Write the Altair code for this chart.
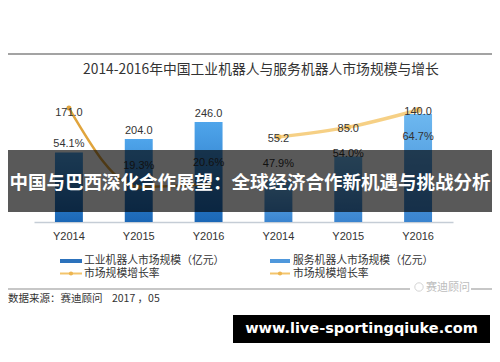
import altair as alt
import pandas as pd

# ---------------- data ----------------
years = ["Y2014", "Y2015", "Y2016"]
industrial_size = [171.0, 204.0, 246.0]
industrial_growth = [54.1, 19.3, 20.6]
service_size = [55.2, 85.0, 140.0]
service_growth = [47.9, 54.0, 64.7]

title_text = "2014-2016年中国工业机器人与服务机器人市场规模与增长"
legend_bar_labels = ["工业机器人市场规模（亿元）", "服务机器人市场规模（亿元）"]
legend_line_label = "市场规模增长率"
source_text = "数据来源：赛迪顾问\u00a0\u00a0\u00a0\u00a02017\u00a0，05"
banner_text = "中国与巴西深化合作展望：全球经济合作新机遇与挑战分析"
site_text = "www.live-sportingqiuke.com"
logo_text = "赛迪顾问"

rows = []
for panel, sizes, growth in [("工业", industrial_size, industrial_growth),
                             ("服务", service_size, service_growth)]:
    for yr, s, g in zip(years, sizes, growth):
        rows.append({"panel": panel, "year": yr, "slot": panel + yr, "size": s, "growth": g})
df = pd.DataFrame(rows)
slots = list(df["slot"])

CJK = "Noto Sans CJK SC"
NUM = "Liberation Sans"
TXT = "#333333"

# ---------------- scales ----------------
xscale = alt.Scale(domain=slots, paddingInner=0.6, paddingOuter=0.3)
xaxis = alt.Axis(title=None, labelExpr="slice(datum.label, -5)", ticks=False, tickSize=0,
                 labelPadding=8, labelFontSize=11, labelColor=TXT, labelFont=NUM,
                 domainColor="#C5CDD6", domainWidth=1.5, labelAngle=0, grid=False)


def X():
    return alt.X("slot:N", scale=xscale, axis=xaxis)


ind_bar = alt.Scale(domain=[0, 413], nice=False, zero=False)
srv_bar = alt.Scale(domain=[0, 218], nice=False, zero=False)
ind_line = alt.Scale(domain=[3.9, 77.9], nice=False, zero=False)
srv_line = alt.Scale(domain=[-5, 99.5], nice=False, zero=False)

grad_ind = alt.LinearGradient(gradient="linear", x1=0, x2=0, y1=0, y2=1,
                              stops=[alt.GradientStop(color="#4FA5EB", offset=0),
                                     alt.GradientStop(color="#1B67B6", offset=1)])
grad_srv = alt.LinearGradient(gradient="linear", x1=0, x2=0, y1=0, y2=1,
                              stops=[alt.GradientStop(color="#6DB8F0", offset=0),
                                     alt.GradientStop(color="#3A84CF", offset=1)])

base = alt.Chart(df).transform_calculate(
    num="format(datum.size, '.1f')",
    pct="format(datum.growth, '.1f') + '%'",
)
ind = base.transform_filter("datum.panel == '工业'")
srv = base.transform_filter("datum.panel == '服务'")

bars_ind = ind.mark_bar(color=grad_ind).encode(
    x=X(), y=alt.Y("size:Q", scale=ind_bar, axis=None))
bars_srv = srv.mark_bar(color=grad_srv).encode(
    x=X(), y=alt.Y("size:Q", scale=srv_bar, axis=None))

line_ind = ind.mark_line(interpolate="monotone", color="#E0A43C", strokeWidth=2.5,
                         point=alt.OverlayMarkDef(color="#E0A43C", size=25, filled=True)).encode(
    x=X(), y=alt.Y("growth:Q", scale=ind_line, axis=None))
line_srv = srv.mark_line(interpolate="monotone", color="#F6CD7E", strokeWidth=3.5, opacity=0.95,
                         point=alt.OverlayMarkDef(color="#F2C064", size=35, filled=True)).encode(
    x=X(), y=alt.Y("growth:Q", scale=srv_line, axis=None))

tstyle = dict(font=NUM, fontSize=11, color=TXT, baseline="middle", align="center")

lab_ind_num_line = ind.transform_filter("datum.year == 'Y2014'").mark_text(dy=5, **tstyle).encode(
    x=X(), y=alt.Y("growth:Q", scale=ind_line, axis=None), text="num:N")
lab_ind_num_bar = ind.transform_filter("datum.year != 'Y2014'").mark_text(dy=-8, **tstyle).encode(
    x=X(), y=alt.Y("size:Q", scale=ind_bar, axis=None), text="num:N")
lab_ind_pct_bar = ind.transform_filter("datum.year == 'Y2014'").mark_text(dy=-8, **tstyle).encode(
    x=X(), y=alt.Y("size:Q", scale=ind_bar, axis=None), text="pct:N")
lab_ind_pct_line = ind.transform_filter("datum.year != 'Y2014'").mark_text(dy=-21, **tstyle).encode(
    x=X(), y=alt.Y("growth:Q", scale=ind_line, axis=None), text="pct:N")
lab_srv_num = srv.mark_text(dy=2, **tstyle).encode(
    x=X(), y=alt.Y("growth:Q", scale=srv_line, axis=None), text="num:N")
lab_srv_pct = srv.mark_text(dy=27, **tstyle).encode(
    x=X(), y=alt.Y("growth:Q", scale=srv_line, axis=None), text="pct:N")

# ---------------- decorations ----------------
deco = alt.Chart(pd.DataFrame({"k": [0]}))

top_rule = deco.mark_rule(color="#A3A3A3", strokeWidth=2).encode(
    x=alt.value(-26), x2=alt.value(458), y=alt.value(0))
title = deco.mark_text(text=title_text, font=CJK, fontSize=13.8, color=TXT,
                       align="center", baseline="middle").encode(x=alt.value(227), y=alt.value(16))

banner = deco.mark_rect(color="black", opacity=0.65).encode(
    x=alt.value(-26), x2=alt.value(458), y=alt.value(96), y2=alt.value(158))
banner_t = deco.mark_text(text=banner_text, font=CJK, fontSize=18.5, fontWeight="bold",
                          color="white", align="center", baseline="middle").encode(
    x=alt.value(216), y=alt.value(129))

leg_sw1 = deco.mark_rect(color="#2C72BC").encode(
    x=alt.value(26), x2=alt.value(48), y=alt.value(205), y2=alt.value(209))
leg_sw2 = deco.mark_rect(color="#4F98DC").encode(
    x=alt.value(236), x2=alt.value(256), y=alt.value(205), y2=alt.value(209))
leg_t1 = deco.mark_text(text=legend_bar_labels[0], font=CJK, fontSize=10.8, color=TXT,
                        align="left", baseline="middle").encode(x=alt.value(50), y=alt.value(207))
leg_t2 = deco.mark_text(text=legend_bar_labels[1], font=CJK, fontSize=10.8, color=TXT,
                        align="left", baseline="middle").encode(x=alt.value(259), y=alt.value(207))
leg_l1 = deco.mark_rule(color="#F3C46C", strokeWidth=2).encode(
    x=alt.value(26), x2=alt.value(48), y=alt.value(219.5))
leg_l2 = deco.mark_rule(color="#F3C46C", strokeWidth=2).encode(
    x=alt.value(236), x2=alt.value(256), y=alt.value(219.5))
leg_d1 = deco.mark_point(shape="circle", filled=True, size=18, color="#EDB550", opacity=1).encode(
    x=alt.value(37), y=alt.value(219.5))
leg_d2 = deco.mark_point(shape="circle", filled=True, size=18, color="#EDB550", opacity=1).encode(
    x=alt.value(246), y=alt.value(219.5))
leg_t3 = deco.mark_text(text=legend_line_label, font=CJK, fontSize=10.8, color=TXT,
                        align="left", baseline="middle").encode(x=alt.value(50), y=alt.value(220))
leg_t4 = deco.mark_text(text=legend_line_label, font=CJK, fontSize=10.8, color=TXT,
                        align="left", baseline="middle").encode(x=alt.value(259), y=alt.value(220))

bot_rule1 = deco.mark_rule(color="#B5B5B5", strokeWidth=1.5).encode(
    x=alt.value(-26), x2=alt.value(376), y=alt.value(235))
bot_rule2 = deco.mark_rule(color="#B5B5B5", strokeWidth=1.5).encode(
    x=alt.value(437), x2=alt.value(458), y=alt.value(235))
logo_icon = deco.mark_point(shape="circle", filled=False, size=70, color="#C4C4C4",
                            strokeWidth=1).encode(x=alt.value(385), y=alt.value(233))
logo_t = deco.mark_text(text=logo_text, font=CJK, fontSize=11, color="#BDBDBD",
                        align="center", baseline="middle").encode(x=alt.value(414), y=alt.value(234))
source = deco.mark_text(text=source_text, font=CJK, fontSize=10.5, color=TXT,
                        align="left", baseline="middle").encode(x=alt.value(-26), y=alt.value(245))

site_box = deco.mark_rect(color="black").encode(
    x=alt.value(199), x2=alt.value(456), y=alt.value(261), y2=alt.value(289))
site_t = deco.mark_text(text=site_text, font="DejaVu Sans", fontSize=14.5, fontWeight="bold",
                        color="white", align="center", baseline="middle").encode(
    x=alt.value(327.5), y=alt.value(275))

chart = alt.layer(
    bars_ind, bars_srv, line_ind, line_srv,
    lab_ind_num_line, lab_ind_num_bar, lab_ind_pct_bar, lab_ind_pct_line,
    lab_srv_num, lab_srv_pct,
    top_rule, title, banner, banner_t,
    leg_sw1, leg_sw2, leg_t1, leg_t2, leg_l1, leg_l2, leg_d1, leg_d2, leg_t3, leg_t4,
    bot_rule1, bot_rule2, logo_icon, logo_t, source, site_box, site_t,
).resolve_scale(y="independent").properties(
    width=419, height=168,
    padding={"left": 26, "top": 46, "right": 39, "bottom": 124},
    autosize=alt.AutoSizeParams(type="none"),
    background="white",
).configure_view(strokeWidth=0)

chart.save("out.html", embed_options={"renderer": "svg", "actions": False})
